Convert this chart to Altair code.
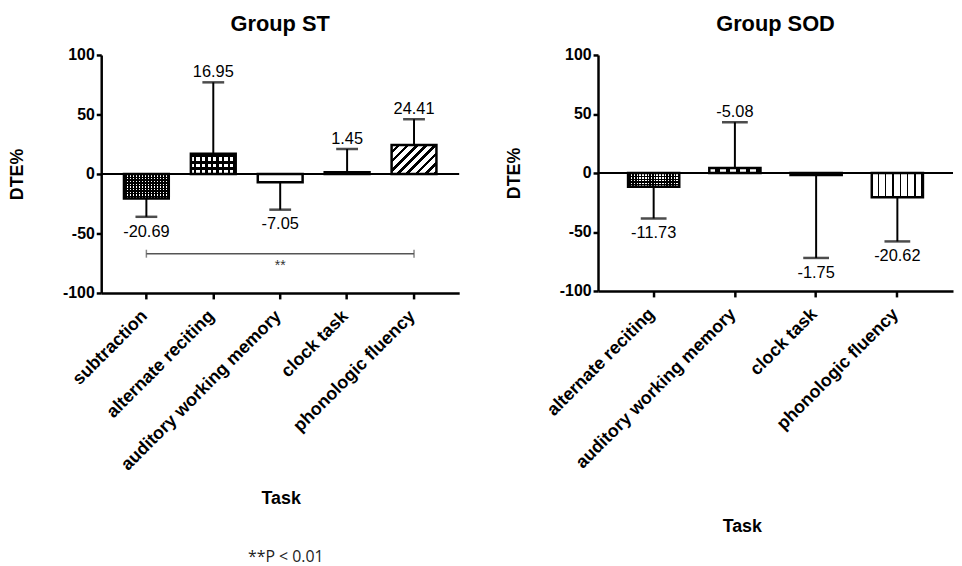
import altair as alt
import pandas as pd

# ---------------- data ----------------
st_tasks = ["subtraction", "alternate reciting", "auditory working memory", "clock task", "phonologic fluency"]
st_values = [-20.69, 16.95, -7.05, 1.45, 24.41]
st_error_ends = [-36, 77, -30, 21, 46]
st_labels = ["-20.69", "16.95", "-7.05", "1.45", "24.41"]

sod_tasks = ["alternate reciting", "auditory working memory", "clock task", "phonologic fluency"]
sod_values = [-11.73, 4.2, -1.75, -20.62]
sod_error_ends = [-38.5, 43, -72, -58]
sod_labels = ["-11.73", "-5.08", "-1.75", "-20.62"]

sig_from = "subtraction"
sig_to = "phonologic fluency"
sig_mid = "auditory working memory"
sig_y = -67
sig_text_y = -77
sig_text = "**"
footnote = "**P < 0.01"

# fill styles per bar (style, not data)
st_patterns = ["fine_check", "coarse_check", "none", "none", "hatch"]
sod_patterns = ["fine_check2", "dash", "none", "vlines"]

FONT = "Liberation Sans"


def stripes(n, c1, c2, frac1, x2, y2):
    stops = []
    for i in range(n):
        a = i / n
        b = (i + frac1) / n
        c = (i + 1) / n
        stops += [
            alt.GradientStop(offset=a, color=c1),
            alt.GradientStop(offset=b, color=c1),
            alt.GradientStop(offset=b, color=c2),
            alt.GradientStop(offset=c, color=c2),
        ]
    return alt.LinearGradient(gradient="linear", stops=stops, x1=0, y1=0, x2=x2, y2=y2)


CLEAR = "rgba(0,0,0,0)"
PATTERNS = {
    "none": ("white", None),
    "fine_check": (stripes(15, "white", "black", 0.5, 1, 0), stripes(9, "black", CLEAR, 0.5, 0, 1)),
    "fine_check2": (stripes(18, "white", "black", 0.5, 1, 0), stripes(5, "black", CLEAR, 0.5, 0, 1)),
    "coarse_check": (stripes(8, "white", "black", 0.55, 1, 0), stripes(3, "black", CLEAR, 0.45, 0, 1)),
    "hatch": (stripes(8, "white", "black", 0.6, 1.16, 0.75), None),
    "dash": (stripes(5, "white", "black", 0.6, 1, 0), None),
    "vlines": (stripes(7, "white", "black", 0.8, 1, 0), None),
}


def panel(tasks, values, errs, labels, patterns, title, width, height, pi, po,
          cap, title_x, title_y, extra=None):
    df = pd.DataFrame({"task": tasks, "value": values, "err": errs,
                       "label": labels, "pattern": patterns})
    x = alt.X("task:N", sort=tasks, title="Task",
              scale=alt.Scale(domain=tasks, paddingInner=pi, paddingOuter=po),
              axis=alt.Axis(labelAngle=-45, labelFont=FONT, labelFontSize=18,
                            labelFontWeight="bold", labelColor="black", labelPadding=8,
                            labelOffset=-8, labelLimit=0,
                            tickSize=6, tickWidth=2.5, tickColor="black",
                            domainWidth=2.5, domainColor="black",
                            titleFont=FONT, titleFontSize=18, titleFontWeight="bold",
                            titleColor="black", titleX=title_x, titleY=title_y,
                            titleBaseline="middle"))
    y = alt.Y("value:Q", title="DTE%",
              scale=alt.Scale(domain=[-100, 100], nice=False, zero=False),
              axis=alt.Axis(values=[-100, -50, 0, 50, 100], grid=False,
                            labelExpr="'' + datum.value",
                            labelFont=FONT, labelFontSize=16, labelFontWeight="bold",
                            labelColor="black", labelPadding=2,
                            tickSize=5, tickWidth=2.5, tickColor="black",
                            domainWidth=2.5, domainColor="black",
                            titleFont=FONT, titleFontSize=18, titleFontWeight="bold",
                            titleColor="black", titlePadding=36))
    base = alt.Chart(df)
    layers = []
    for t, p in zip(tasks, patterns):
        f1, f2 = PATTERNS[p]
        sub = base.transform_filter(alt.datum.task == t)
        layers.append(sub.mark_bar(fill=f1, strokeWidth=0).encode(x=x, y=y))
        if f2 is not None:
            layers.append(sub.mark_bar(fill=f2, strokeWidth=0).encode(x=x, y=y))
    layers.append(base.mark_bar(fillOpacity=0, stroke="black", strokeWidth=2.5).encode(x=x, y=y))
    layers.append(alt.Chart(pd.DataFrame({"z": [0]})).mark_rule(color="black", strokeWidth=2)
                  .encode(y=alt.Y("z:Q", scale=alt.Scale(domain=[-100, 100], nice=False, zero=False), title="DTE%")))
    layers.append(base.mark_rule(color="black", strokeWidth=2)
                  .encode(x=x, y=alt.Y("value:Q", title="DTE%"), y2="err:Q"))
    layers.append(base.mark_tick(orient="horizontal", size=cap, thickness=2.5, color="black")
                  .encode(x=x, y=alt.Y("err:Q", title="DTE%")))
    layers.append(base.transform_filter("datum.err > datum.value")
                  .mark_text(font=FONT, fontSize=16.5, baseline="alphabetic", dy=-5, color="black")
                  .encode(x=x, y=alt.Y("err:Q", title="DTE%"), text="label:N"))
    layers.append(base.transform_filter("datum.err < datum.value")
                  .mark_text(font=FONT, fontSize=16.5, baseline="top", dy=7, color="black")
                  .encode(x=x, y=alt.Y("err:Q", title="DTE%"), text="label:N"))
    if extra:
        layers += extra(x)
    return alt.layer(*layers).properties(
        width=width, height=height,
        title=alt.TitleParams(title, font=FONT, fontSize=22, fontWeight="bold",
                              color="black", anchor="middle", offset=11))


def st_extra(x):
    br = pd.DataFrame({"task": [sig_from], "task2": [sig_to], "y": [sig_y]})
    caps = pd.DataFrame({"task": [sig_from, sig_to], "y": [sig_y, sig_y]})
    star = pd.DataFrame({"task": [sig_mid], "y": [sig_text_y], "t": [sig_text]})
    return [
        alt.Chart(br).mark_rule(color="#555", strokeWidth=1.5)
        .encode(x=x, x2="task2:N", y=alt.Y("y:Q", title="DTE%")),
        alt.Chart(caps).mark_tick(orient="vertical", size=8, thickness=1.5, color="#555")
        .encode(x=x, y=alt.Y("y:Q", title="DTE%")),
        alt.Chart(star).mark_text(font=FONT, fontSize=14, color="#333")
        .encode(x=x, y=alt.Y("y:Q", title="DTE%"), text="t:N"),
    ]


left = panel(st_tasks, st_values, st_error_ends, st_labels, st_patterns, "Group ST",
             361, 240, 0.33, 0.34, 22, 181, 207, st_extra)
right = panel(sod_tasks, sod_values, sod_error_ends, sod_labels, sod_patterns, "Group SOD",
              358, 238, 0.37, 0.37, 26, 145, 238)

chart = alt.hconcat(left, right, spacing=45).properties(
    padding={"left": 0, "top": 3, "right": 0, "bottom": 2},
    title=alt.TitleParams(footnote, orient="bottom", anchor="start", dx=241, offset=13,
                          font="Open Sans", fontSize=16, fontWeight="normal", color="#222"),
).configure_view(stroke=None)

chart.save("out.html", embed_options={"renderer": "svg", "actions": False})
